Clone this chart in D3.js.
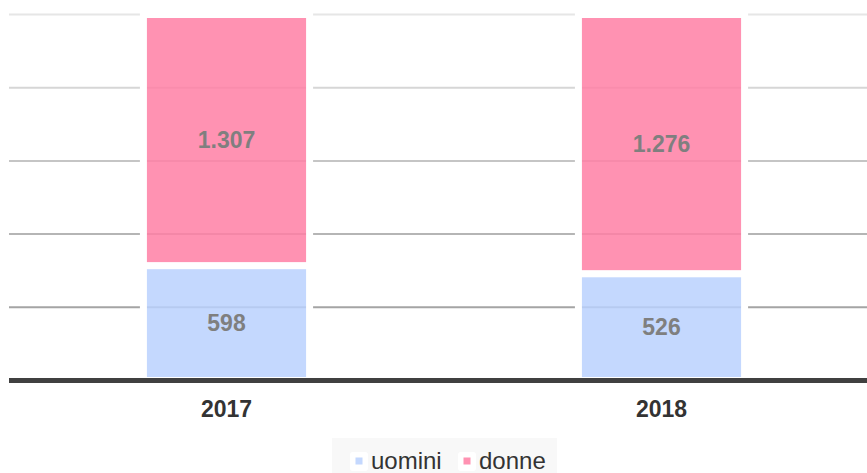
<!DOCTYPE html>
<html>
<head>
<meta charset="utf-8">
<script src="https://cdn.jsdelivr.net/npm/d3@7"></script>
<style>
  html, body { margin: 0; padding: 0; background: #fff; }
  svg { display: block; font-family: "Liberation Sans", Arial, sans-serif; }
</style>
</head>
<body>
<svg id="chart" width="867" height="473"></svg>
<script>
// Anni e iscritti per genere
const years = ["2017", "2018"];
const uomini = [598, 526];
const donne = [1307, 1276];
const seriesNames = ["uomini", "donne"];
const gridTicks = [0, 0.2, 0.4, 0.6, 0.8, 1];

const fmt = d3.formatLocale({ decimal: ",", thousands: ".", grouping: [3], currency: ["€", ""] }).format(",d");

const svg = d3.select("#chart");
const colors = { uomini: "#bad1fe", donne: "#ff7fa4" };

const x = d3.scaleBand().domain(years).range([9, 879]).padding(0);
const y = d3.scaleLinear().domain([0, 1]).range([380.5, 14.5]);
const barW = x.bandwidth() * 0.382;
const gridColor = d3.scaleLinear().domain([0.2, 1]).range(["#a4a4a4", "#e6e6e6"]);

// griglia orizzontale
svg.append("g").selectAll("line")
  .data(gridTicks.filter(t => t > 0))
  .join("line")
  .attr("x1", 9).attr("x2", 867)
  .attr("y1", d => y(d)).attr("y2", d => y(d))
  .attr("stroke", d => gridColor(d))
  .attr("stroke-width", 2);

// dati impilati in percentuale
const rows = years.map((yr, i) => ({ year: yr, uomini: uomini[i], donne: donne[i] }));
const stack = d3.stack().keys(seriesNames).offset(d3.stackOffsetExpand);
const layers = stack(rows);

const gLayers = svg.append("g").selectAll("g")
  .data(layers)
  .join("g");

gLayers.selectAll("rect")
  .data(l => l.map(d => ({ key: l.key, d })))
  .join("rect")
  .attr("x", e => x(e.d.data.year) + x.bandwidth() / 2 - barW / 2)
  .attr("width", barW)
  .attr("y", e => y(e.d[1]))
  .attr("height", e => y(e.d[0]) - y(e.d[1]))
  .attr("fill", e => colors[e.key])
  .attr("fill-opacity", 0.85)
  .attr("stroke", "#fff")
  .attr("stroke-width", 7);

// etichette dei valori
gLayers.selectAll("text")
  .data(l => l.map(d => ({ key: l.key, d })))
  .join("text")
  .attr("x", e => x(e.d.data.year) + x.bandwidth() / 2)
  .attr("y", e => (y(e.d[0]) + y(e.d[1])) / 2)
  .attr("dy", "0.36em")
  .attr("text-anchor", "middle")
  .attr("font-size", 23)
  .attr("font-weight", "bold")
  .attr("fill", "#7f7f7f")
  .text(e => fmt(e.d.data[e.key]));

// asse base
svg.append("line")
  .attr("x1", 9).attr("x2", 867)
  .attr("y1", 380.5).attr("y2", 380.5)
  .attr("stroke", "#404040")
  .attr("stroke-width", 5);

const xAxis = d3.axisBottom(x).tickSize(0).tickPadding(0);
const gx = svg.append("g").attr("transform", "translate(0,408.5)").call(xAxis);
gx.select(".domain").remove();
gx.selectAll("text")
  .attr("dy", "0.36em")
  .attr("font-size", 23)
  .attr("font-weight", "bold")
  .attr("font-family", "Liberation Sans, Arial, sans-serif")
  .attr("fill", "#333");

// legenda
const legend = svg.append("g");
legend.append("rect")
  .attr("x", 332).attr("y", 438).attr("width", 225).attr("height", 40)
  .attr("fill", "#f8f8f8");
const items = legend.selectAll("g.item")
  .data(seriesNames)
  .join("g")
  .attr("class", "item")
  .attr("transform", (d, i) => `translate(${[350, 458][i]},0)`);
items.append("rect")
  .attr("x", 0).attr("y", 452).attr("width", 18).attr("height", 19).attr("rx", 3)
  .attr("fill", "#fff");
items.append("rect")
  .attr("x", 5.5).attr("y", 457.5).attr("width", 7).attr("height", 7)
  .attr("fill", d => colors[d]).attr("fill-opacity", 0.85);
items.append("text")
  .attr("x", 21).attr("y", 468.5)
  .attr("font-size", 24)
  .attr("fill", "#333")
  .text(d => d);
</script>
</body>
</html>
